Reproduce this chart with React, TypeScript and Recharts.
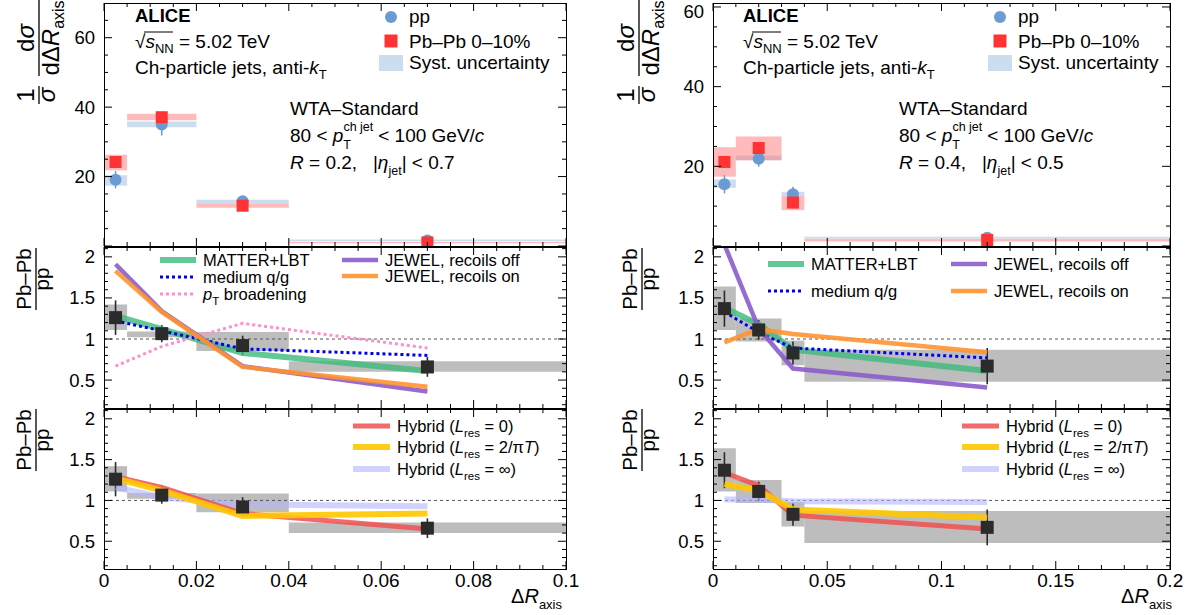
import React from 'react';
import {
  ComposedChart, Scatter, XAxis, YAxis, ReferenceArea, ReferenceLine, ErrorBar,
} from 'recharts';

const FONT = '"Liberation Sans", Arial, Helvetica, sans-serif';

// ---------- R = 0.2 (left column) ----------
const binEdgesR02 = [0, 0.005, 0.02, 0.04, 0.1];
const binCentersR02 = [0.0025, 0.0125, 0.03, 0.07];
const ppR02 = [19.1, 35.0, 12.9, 1.6];
const ppStatR02 = [2.5, 3.2, 0.9, 0.2];
const ppSysLowR02 = [17.4, 34.2, 12.1, 1.45];
const ppSysHighR02 = [20.4, 35.9, 13.3, 1.9];
const pbR02 = [24.2, 37.1, 11.6, 1.0];
const pbStatR02 = [0.9, 1.0, 0.5, 0.1];
const pbSysLowR02 = [21.8, 36.2, 11.0, 0.8];
const pbSysHighR02 = [26.3, 38.1, 12.1, 1.25];
const ratioR02 = [1.26, 1.065, 0.92, 0.66];
const ratioStatR02 = [0.21, 0.105, 0.12, 0.12];
const ratioSysLowR02 = [1.11, 1.02, 0.855, 0.6];
const ratioSysHighR02 = [1.42, 1.09, 1.085, 0.73];
const matterR02 = [1.28, 1.12, 0.83, 0.61];
const qgR02 = [1.22, 1.1, 0.88, 0.8];
const ptBroadR02 = [0.67, 0.91, 1.19, 0.89];
const jewelOffR02 = [1.91, 1.34, 0.67, 0.36];
const jewelOnR02 = [1.83, 1.33, 0.66, 0.42];
const hybrid0R02 = [1.29, 1.16, 0.84, 0.65];
const hybridPiTR02 = [1.27, 1.12, 0.81, 0.84];
const hybridInfR02 = [1.16, 1.04, 0.95, 0.93];

// ---------- R = 0.4 (right column) ----------
const binEdgesR04 = [0, 0.01, 0.03, 0.04, 0.2];
const binCentersR04 = [0.005, 0.02, 0.035, 0.12];
const ppR04 = [15.5, 21.9, 13.0, 2.1];
const ppStatR04 = [2.3, 2.0, 1.9, 0.2];
const ppSysLowR04 = [14.6, 21.5, 12.6, 1.9];
const ppSysHighR04 = [16.7, 22.7, 13.6, 2.3];
const pbR04 = [21.1, 24.6, 10.9, 1.5];
const pbStatR04 = [1.2, 1.0, 0.8, 0.1];
const pbSysLowR04 = [17.4, 21.5, 9.0, 1.15];
const pbSysHighR04 = [24.8, 27.5, 12.6, 1.8];
const ratioR04 = [1.37, 1.11, 0.83, 0.67];
const ratioStatR04 = [0.22, 0.12, 0.14, 0.22];
const ratioSysLowR04 = [1.11, 0.97, 0.68, 0.48];
const ratioSysHighR04 = [1.64, 1.25, 0.98, 0.87];
const matterR04 = [1.38, 1.18, 0.87, 0.61];
const qgR04 = [1.33, 1.08, 0.89, 0.77];
const jewelOffR04 = [2.15, 1.13, 0.64, 0.41];
const jewelOnR04 = [0.96, 1.12, 1.06, 0.84];
const hybrid0R04 = [1.34, 1.18, 0.82, 0.65];
const hybridPiTR04 = [1.2, 1.12, 0.89, 0.79];
const hybridInfR04 = [1.01, 1.01, 0.99, 0.98];

// axis ticks
const xMajorR02 = [0, 0.02, 0.04, 0.06, 0.08, 0.1];
const xMajorR04 = [0, 0.05, 0.1, 0.15, 0.2];
const ratioMajor = [0.5, 1, 1.5, 2];
const distMajor = [0, 20, 40, 60];
const distLabels = [20, 40, 60];

// styles
const C_PP = '#6b9bd2';
const C_PB = '#ff3333';
const C_PP_SYS = '#8fb4db';
const C_PB_SYS = '#ff7777';
const C_RATIO = '#2b2b2b';
const C_GRAY = '#bdbdbd';
const sMatter = { stroke: '#3dba7c', strokeWidth: 6, strokeOpacity: 0.8 };
const sQG = { stroke: '#0000e6', strokeWidth: 3, strokeDasharray: '3 3' };
const sPt = { stroke: '#ff8fc8', strokeWidth: 3, strokeDasharray: '3 3' };
const sJOff = { stroke: '#8c5ccc', strokeWidth: 4.5, strokeOpacity: 0.9 };
const sJOn = { stroke: '#ff9430', strokeWidth: 4.5, strokeOpacity: 0.9 };
const sH0 = { stroke: '#f05050', strokeWidth: 5, strokeOpacity: 0.85 };
const sHPi = { stroke: '#ffc800', strokeWidth: 6, strokeOpacity: 0.9 };
const sHInf = { stroke: '#b4b4ff', strokeWidth: 6, strokeOpacity: 0.6 };

// page layout of the six frames
const COLS = [{ x: 104, w: 462 }, { x: 713, w: 457 }];
const ROWS = [{ y: 3, h: 243 }, { y: 247, h: 161 }, { y: 409, h: 160 }];
const ML = 70, MR = 20, MT = 3, MB = 40;

type Geo = { x: number; y: number; w: number; h: number };

const range = (a: number, b: number, s: number) => {
  const out: number[] = [];
  for (let v = a; v <= b + s / 1000; v += s) out.push(Math.round(v * 1e6) / 1e6);
  return out;
};
const fmt = (v: number) => String(Math.round(v * 1e6) / 1e6);
const isIn = (arr: number[], v: number) => arr.some((m) => Math.abs(m - v) < 1e-9);

const pts = (xs: number[], ys: number[]) => xs.map((x, i) => ({ x, y: ys[i] }));
const ptsErr = (xs: number[], ys: number[], es: number[]) =>
  xs.map((x, i) => ({ x, y: ys[i], e: es[i] }));

const noShape = () => <g />;
const circleShape = (p: any) => <circle cx={p.cx} cy={p.cy} r={6} fill={C_PP} />;
const squareShape = (fill: string, s: number) => (p: any) => (
  <rect x={p.cx - s / 2} y={p.cy - s / 2} width={s} height={s} fill={fill} />
);

const xTick = (geo: Geo, majors: number[], showLabel: boolean) => (p: any) => {
  const v = p.payload.value;
  const major = isIn(majors, v);
  const len = major ? 8 : 4;
  const yb = MT + geo.h;
  return (
    <g>
      <line x1={p.x} x2={p.x} y1={yb} y2={yb - len} stroke="#000" />
      <line x1={p.x} x2={p.x} y1={MT} y2={MT + len} stroke="#000" />
      {showLabel && major && (
        <text x={p.x} y={yb + 18} textAnchor="middle" fontSize={19} fontFamily={FONT} fill="#000">
          {fmt(v)}
        </text>
      )}
    </g>
  );
};

const yTick = (geo: Geo, majors: number[], labels: number[]) => (p: any) => {
  const v = p.payload.value;
  const major = isIn(majors, v);
  const len = major ? 8 : 4;
  const xl = ML, xr = ML + geo.w;
  return (
    <g>
      <line x1={xl} x2={xl + len} y1={p.y} y2={p.y} stroke="#000" />
      <line x1={xr} x2={xr - len} y1={p.y} y2={p.y} stroke="#000" />
      {isIn(labels, v) && (
        <text x={xl - 9} y={Math.max(p.y + 6.5, 17.5)} textAnchor="end" fontSize={18.5} fontFamily={FONT} fill="#000">
          {fmt(v)}
        </text>
      )}
    </g>
  );
};

interface PanelProps {
  geo: Geo;
  xDomain: [number, number];
  xMajor: number[];
  xMinor: number[];
  showX: boolean;
  yDomain: [number, number];
  yMajor: number[];
  yMinor: number[];
  yLabels: number[];
  children: React.ReactNode;
}

function Panel({ geo, xDomain, xMajor, xMinor, showX, yDomain, yMajor, yMinor, yLabels, children }: PanelProps) {
  return (
    <div style={{ position: 'absolute', left: geo.x - ML, top: geo.y - MT }}>
      <ComposedChart
        width={geo.w + ML + MR}
        height={geo.h + MT + MB}
        margin={{ top: MT, right: MR, bottom: 0, left: 0 }}
      >
        <XAxis
          type="number" dataKey="x" domain={xDomain} allowDataOverflow ticks={xMinor} interval={0}
          height={MB} axisLine={false} tickLine={false} tick={xTick(geo, xMajor, showX)}
        />
        <YAxis
          type="number" dataKey="y" domain={yDomain} allowDataOverflow ticks={yMinor} interval={0}
          width={ML} axisLine={false} tickLine={false} tick={yTick(geo, yMajor, yLabels)}
        />
        {children}
      </ComposedChart>
    </div>
  );
}

function boxes(key: string, edges: number[], lows: number[], highs: number[], fill: string, op: number) {
  return lows.map((lo, i) => (
    <ReferenceArea
      key={key + i} x1={edges[i]} x2={edges[i + 1]} y1={lo} y2={highs[i]}
      fill={fill} fillOpacity={op} stroke="none" ifOverflow="hidden"
    />
  ));
}

function model(key: string, xs: number[], ys: number[], style: object) {
  return (
    <Scatter
      key={key} data={pts(xs, ys)} line={style} lineType="joint" shape={noShape}
      isAnimationActive={false}
    />
  );
}

function distPanel(col: number, edges: number[], xs: number[], pp: number[], ppE: number[],
  ppLo: number[], ppHi: number[], pb: number[], pbE: number[], pbLo: number[], pbHi: number[],
  xDomain: [number, number], xMajor: number[], xMinor: number[], yMax: number) {
  const geo = { ...COLS[col], ...ROWS[0] };
  return (
    <Panel
      geo={geo} xDomain={xDomain} xMajor={xMajor} xMinor={xMinor} showX={false}
      yDomain={[0, yMax]} yMajor={distMajor} yMinor={range(0, yMax - 1, 5)} yLabels={distLabels}
    >
      {boxes('pps', edges, ppLo, ppHi, C_PP_SYS, 0.45)}
      {boxes('pbs', edges, pbLo, pbHi, C_PB_SYS, 0.5)}
      <Scatter data={ptsErr(xs, pp, ppE)} shape={circleShape} isAnimationActive={false}>
        <ErrorBar dataKey="e" direction="y" width={0} stroke={C_PP} strokeWidth={1.5} />
      </Scatter>
      <Scatter data={ptsErr(xs, pb, pbE)} shape={squareShape(C_PB, 12)} isAnimationActive={false}>
        <ErrorBar dataKey="e" direction="y" width={0} stroke={C_PB} strokeWidth={1.5} />
      </Scatter>
    </Panel>
  );
}

function ratioPanel(col: number, row: number, edges: number[], xs: number[], r: number[], rE: number[],
  rLo: number[], rHi: number[], xDomain: [number, number], xMajor: number[], xMinor: number[],
  models: React.ReactNode[]) {
  const geo = { ...COLS[col], ...ROWS[row] };
  return (
    <Panel
      geo={geo} xDomain={xDomain} xMajor={xMajor} xMinor={xMinor} showX={row === 2}
      yDomain={[0.16, 2.12]} yMajor={ratioMajor} yMinor={range(0.2, 2.1, 0.1)} yLabels={ratioMajor}
    >
      {boxes('rs', edges, rLo, rHi, C_GRAY, 1)}
      <ReferenceLine y={1} stroke="#555" strokeDasharray="3 3" strokeWidth={1} />
      {models}
      <Scatter data={ptsErr(xs, r, rE)} shape={squareShape(C_RATIO, 13)} isAnimationActive={false}>
        <ErrorBar dataKey="e" direction="y" width={0} stroke={C_RATIO} strokeWidth={1.6} />
      </Scatter>
    </Panel>
  );
}

// ---------- annotation overlay ----------
function TopText({ dx, legendX, infoX, r, eta }: { dx: number; legendX: number; infoX: number; r: string; eta: string }) {
  const x0 = 135 + dx;
  return (
    <g fontSize={19} fill="#000">
      <text x={x0} y={22} fontWeight="bold" fontSize={18.5}>ALICE</text>
      <text x={x0} y={48}>
        √<tspan fontStyle="italic">s</tspan>
        <tspan fontSize={13} dy={5}>NN</tspan>
        <tspan dy={-5}> = 5.02 TeV</tspan>
      </text>
      <line x1={x0 + 9} x2={x0 + 38} y1={32} y2={32} stroke="#000" strokeWidth={1} />
      <text x={x0} y={74}>
        Ch-particle jets, anti-<tspan fontStyle="italic">k</tspan>
        <tspan fontSize={13} dy={5}>T</tspan>
      </text>

      <circle cx={legendX} cy={17} r={6} fill={C_PP} />
      <text x={legendX + 18} y={23}>pp</text>
      <rect x={legendX - 6.5} y={34.5} width={13} height={13} fill={C_PB} />
      <text x={legendX + 18} y={48}>Pb–Pb 0–10%</text>
      <rect x={legendX - 12} y={55} width={24} height={16} fill={C_PP_SYS} fillOpacity={0.45} />
      <text x={legendX + 18} y={69}>Syst. uncertainty</text>

      <text x={infoX} y={115}>WTA–Standard</text>
      <text x={infoX} y={142}>
        80 &lt; <tspan fontStyle="italic">p</tspan>
        <tspan fontSize={12.5} dy={-11}>ch jet</tspan>
        <tspan fontSize={12.5} dx={-30} dy={17.5}>T</tspan>
        <tspan dx={22} dy={-6.5}> &lt; 100 GeV/</tspan>
        <tspan fontStyle="italic">c</tspan>
      </text>
      <text x={infoX} y={169} xmlSpace="preserve">
        <tspan fontStyle="italic">R</tspan>
        <tspan>{` = ${r},   |`}</tspan>
        <tspan fontStyle="italic">η</tspan>
        <tspan fontSize={12.5} dy={6}>jet</tspan>
        <tspan dy={-6}>{`| < ${eta}`}</tspan>
      </text>
    </g>
  );
}

function LegendItem({ x1, x2, y, style, children }: { x1: number; x2: number; y: number; style: any; children: React.ReactNode }) {
  return (
    <g>
      <line x1={x1} x2={x2} y1={y} y2={y} {...style} />
      <text x={x2 + 7} y={y + 6} fontSize={16.5} fill="#000">{children}</text>
    </g>
  );
}

const ptLabel = (
  <>
    <tspan fontStyle="italic">p</tspan>
    <tspan fontSize={11.5} dy={5}>T</tspan>
    <tspan dy={-5}> broadening</tspan>
  </>
);

const hybLabel = (tail: React.ReactNode) => (
  <>
    Hybrid (<tspan fontStyle="italic">L</tspan>
    <tspan fontSize={11.5} dy={5}>res</tspan>
    <tspan dy={-5}> = </tspan>
    {tail}
    <tspan>)</tspan>
  </>
);

function HybridLegend({ x }: { x: number }) {
  return (
    <g>
      <LegendItem x1={x} x2={x + 37} y={426} style={sH0}>{hybLabel(<tspan>0</tspan>)}</LegendItem>
      <LegendItem x1={x} x2={x + 37} y={447} style={sHPi}>
        {hybLabel(<><tspan>2/π</tspan><tspan fontStyle="italic">T</tspan></>)}
      </LegendItem>
      <LegendItem x1={x} x2={x + 37} y={469} style={sHInf}>{hybLabel(<tspan>∞</tspan>)}</LegendItem>
    </g>
  );
}

function Frac({ x, y, size, num, den, half, denBase }: { x: number; y: number; size: number; num: React.ReactNode; den: React.ReactNode; half: number; denBase: number }) {
  return (
    <g transform={`translate(${x},${y}) rotate(-90)`} fontSize={size} fill="#000">
      <text x={0} y={-5} textAnchor="middle">{num}</text>
      <line x1={-half} x2={half} y1={0} y2={0} stroke="#000" strokeWidth={1.3} />
      <text x={0} y={denBase} textAnchor="middle">{den}</text>
    </g>
  );
}

function DistTitle({ x }: { x: number }) {
  return (
    <g>
      <Frac x={x} y={95} size={24} half={9} denBase={16} num="1" den={<tspan fontStyle="italic">σ</tspan>} />
      <Frac
        x={x} y={38} size={24} half={38} denBase={20}
        num={<>d<tspan fontStyle="italic">σ</tspan></>}
        den={<>dΔ<tspan fontStyle="italic">R</tspan><tspan fontSize={16} dy={5}>axis</tspan></>}
      />
    </g>
  );
}

function XTitle({ x }: { x: number }) {
  return (
    <text x={x} y={603} textAnchor="end" fontSize={20} fill="#000">
      Δ<tspan fontStyle="italic">R</tspan>
      <tspan fontSize={13} dy={6}>axis</tspan>
    </text>
  );
}

function Overlay() {
  const frames: React.ReactNode[] = [];
  COLS.forEach((c, i) =>
    ROWS.forEach((r, j) =>
      frames.push(
        <rect key={`f${i}${j}`} x={c.x + 0.5} y={r.y + 0.5} width={c.w} height={r.h}
          fill="none" stroke="#000" strokeWidth={1} />,
      ),
    ),
  );
  return (
    <svg
      width={1199} height={615}
      style={{ position: 'absolute', left: 0, top: 0, pointerEvents: 'none' }}
      fontFamily={FONT}
    >
      {frames}
      <TopText dx={0} legendX={391} infoX={290} r="0.2" eta="0.7" />
      <TopText dx={608} legendX={1000} infoX={899} r="0.4" eta="0.5" />

      <DistTitle x={39} />
      <DistTitle x={639} />
      <Frac x={36} y={279} size={20.5} half={31} denBase={13} num="Pb–Pb" den="pp" />
      <Frac x={36} y={440} size={20.5} half={31} denBase={13} num="Pb–Pb" den="pp" />
      <Frac x={642} y={279} size={20.5} half={31} denBase={13} num="Pb–Pb" den="pp" />
      <Frac x={642} y={440} size={20.5} half={31} denBase={13} num="Pb–Pb" den="pp" />

      {/* model legends, R = 0.2 */}
      <LegendItem x1={160} x2={196} y={260} style={sMatter}>MATTER+LBT</LegendItem>
      <LegendItem x1={160} x2={196} y={277} style={sQG}>medium q/g</LegendItem>
      <LegendItem x1={160} x2={196} y={294} style={sPt}>{ptLabel}</LegendItem>
      <LegendItem x1={342} x2={378} y={260} style={sJOff}>JEWEL, recoils off</LegendItem>
      <LegendItem x1={342} x2={378} y={276} style={sJOn}>JEWEL, recoils on</LegendItem>

      {/* model legends, R = 0.4 */}
      <LegendItem x1={768} x2={804} y={264} style={sMatter}>MATTER+LBT</LegendItem>
      <LegendItem x1={768} x2={804} y={291} style={sQG}>medium q/g</LegendItem>
      <LegendItem x1={951} x2={987} y={264} style={sJOff}>JEWEL, recoils off</LegendItem>
      <LegendItem x1={951} x2={987} y={291} style={sJOn}>JEWEL, recoils on</LegendItem>

      <HybridLegend x={353} />
      <HybridLegend x={962} />

      <XTitle x={562} />
      <XTitle x={1172} />
    </svg>
  );
}

export default function App() {
  const domL: [number, number] = [0, 0.1];
  const domR: [number, number] = [0, 0.2];
  const minorL = range(0, 0.1, 0.005);
  const minorR = range(0, 0.2, 0.01);

  const modelsMidL = [
    model('m', binCentersR02, matterR02, sMatter),
    model('q', binCentersR02, qgR02, sQG),
    model('p', binCentersR02, ptBroadR02, sPt),
    model('jo', binCentersR02, jewelOffR02, sJOff),
    model('jn', binCentersR02, jewelOnR02, sJOn),
  ];
  const modelsMidR = [
    model('m', binCentersR04, matterR04, sMatter),
    model('q', binCentersR04, qgR04, sQG),
    model('jo', binCentersR04, jewelOffR04, sJOff),
    model('jn', binCentersR04, jewelOnR04, sJOn),
  ];
  const modelsBotL = [
    model('hi', binCentersR02, hybridInfR02, sHInf),
    model('h0', binCentersR02, hybrid0R02, sH0),
    model('hp', binCentersR02, hybridPiTR02, sHPi),
  ];
  const modelsBotR = [
    model('hi', binCentersR04, hybridInfR04, sHInf),
    model('h0', binCentersR04, hybrid0R04, sH0),
    model('hp', binCentersR04, hybridPiTR04, sHPi),
  ];

  return (
    <div style={{ position: 'absolute', left: 0, top: 0, width: 1199, height: 615, background: '#fff', overflow: 'hidden', fontFamily: FONT }}>
      {distPanel(0, binEdgesR02, binCentersR02, ppR02, ppStatR02, ppSysLowR02, ppSysHighR02,
        pbR02, pbStatR02, pbSysLowR02, pbSysHighR02, domL, xMajorR02, minorL, 70)}
      {distPanel(1, binEdgesR04, binCentersR04, ppR04, ppStatR04, ppSysLowR04, ppSysHighR04,
        pbR04, pbStatR04, pbSysLowR04, pbSysHighR04, domR, xMajorR04, minorR, 61)}
      {ratioPanel(0, 1, binEdgesR02, binCentersR02, ratioR02, ratioStatR02, ratioSysLowR02, ratioSysHighR02,
        domL, xMajorR02, minorL, modelsMidL)}
      {ratioPanel(1, 1, binEdgesR04, binCentersR04, ratioR04, ratioStatR04, ratioSysLowR04, ratioSysHighR04,
        domR, xMajorR04, minorR, modelsMidR)}
      {ratioPanel(0, 2, binEdgesR02, binCentersR02, ratioR02, ratioStatR02, ratioSysLowR02, ratioSysHighR02,
        domL, xMajorR02, minorL, modelsBotL)}
      {ratioPanel(1, 2, binEdgesR04, binCentersR04, ratioR04, ratioStatR04, ratioSysLowR04, ratioSysHighR04,
        domR, xMajorR04, minorR, modelsBotR)}
      <Overlay />
    </div>
  );
}
